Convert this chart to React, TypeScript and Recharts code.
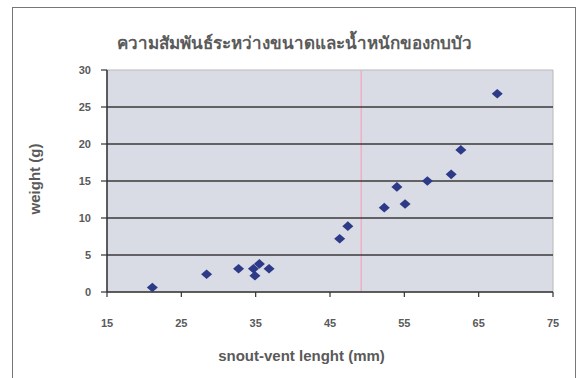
import React from "react";
import {
  ScatterChart,
  Scatter,
  XAxis,
  YAxis,
  ReferenceArea,
  ReferenceLine,
} from "recharts";

const titleText = "ความสัมพันธ์ระหว่างขนาดและน้ำหนักของกบบัว";
const xLabel = "snout-vent lenght (mm)";
const yLabel = "weight (g)";

const snoutVent = [21.1, 28.4, 32.7, 34.7, 34.9, 35.5, 36.8, 46.3, 47.4, 52.3, 54.0, 55.1, 58.1, 61.3, 62.6, 67.5];
const weight = [0.6, 2.4, 3.15, 3.15, 2.2, 3.8, 3.15, 7.2, 8.9, 11.4, 14.2, 11.9, 15.0, 15.9, 19.2, 26.8];

const xTicks = [15, 25, 35, 45, 55, 65, 75];
const yTicks = [0, 5, 10, 15, 20, 25, 30];
const gridValues = [5, 10, 15, 20, 25];
const artifactX = 49.2;

const data = snoutVent.map((x, i) => ({ x, y: weight[i] }));

const FONT = "'Liberation Sans', Arial, sans-serif";
const TEXT_COLOR = "#5a5a5a";

const Diamond = (props: any) => {
  const { cx, cy } = props;
  if (cx == null || cy == null) return null;
  const w = 5.5;
  const h = 4.8;
  return (
    <polygon
      points={`${cx},${cy - h} ${cx + w},${cy} ${cx},${cy + h} ${cx - w},${cy}`}
      fill="#2c3a88"
    />
  );
};

export default function App() {
  return (
    <div
      style={{
        position: "absolute",
        left: 0,
        top: 0,
        width: 578,
        height: 378,
        background: "#ffffff",
        overflow: "hidden",
        fontFamily: FONT,
      }}
    >
      <div
        style={{
          position: "absolute",
          left: 12,
          top: 7,
          width: 564,
          height: 400,
          border: "1px solid #777",
          boxSizing: "border-box",
        }}
      />
      <ScatterChart
        width={578}
        height={378}
        margin={{ top: 70, right: 25, bottom: 56, left: 47 }}
        style={{ position: "absolute", left: 0, top: 0 }}
      >
        <XAxis
          type="number"
          dataKey="x"
          domain={[15, 75]}
          ticks={xTicks}
          interval={0}
          height={30}
          tickSize={5}
          tickMargin={22}
          axisLine={{ stroke: "#333", strokeWidth: 1.5 }}
          tickLine={{ stroke: "#333", strokeWidth: 1.2 }}
          tick={{ fill: TEXT_COLOR, fontSize: 11, fontWeight: "bold", fontFamily: FONT }}
        />
        <YAxis
          type="number"
          dataKey="y"
          domain={[0, 30]}
          ticks={yTicks}
          interval={0}
          width={60}
          tickSize={6}
          tickMargin={10}
          axisLine={{ stroke: "#333", strokeWidth: 1.5 }}
          tickLine={{ stroke: "#333", strokeWidth: 1.2 }}
          tick={{ fill: TEXT_COLOR, fontSize: 11, fontWeight: "bold", fontFamily: FONT }}
        />
        <ReferenceArea
          x1={15}
          x2={75}
          y1={0}
          y2={30}
          fill="#d9dce4"
          fillOpacity={1}
          stroke="#b8b8b8"
          strokeWidth={1}
        />
        <ReferenceLine x={artifactX} stroke="#f5a3bd" strokeWidth={1.2} />
        {gridValues.map((v) => (
          <ReferenceLine key={v} y={v} stroke="#3a3a3a" strokeWidth={1.6} />
        ))}
        <Scatter data={data} shape={<Diamond />} isAnimationActive={false} />
      </ScatterChart>
      <div
        style={{
          position: "absolute",
          left: 0,
          width: 588,
          top: 33,
          textAlign: "center",
          fontSize: 17,
          fontWeight: "bold",
          color: TEXT_COLOR,
          whiteSpace: "nowrap",
          lineHeight: "22px",
        }}
      >
        {titleText}
      </div>
      <div
        style={{
          position: "absolute",
          left: 0,
          width: 603,
          top: 347,
          textAlign: "center",
          fontSize: 15,
          fontWeight: "bold",
          color: TEXT_COLOR,
          whiteSpace: "nowrap",
          lineHeight: "18px",
        }}
      >
        {xLabel}
      </div>
      <div
        style={{
          position: "absolute",
          left: 35,
          top: 179,
          transform: "translate(-50%, -50%) rotate(-90deg)",
          fontSize: 15,
          fontWeight: "bold",
          color: TEXT_COLOR,
          whiteSpace: "nowrap",
          lineHeight: "18px",
        }}
      >
        {yLabel}
      </div>
    </div>
  );
}
